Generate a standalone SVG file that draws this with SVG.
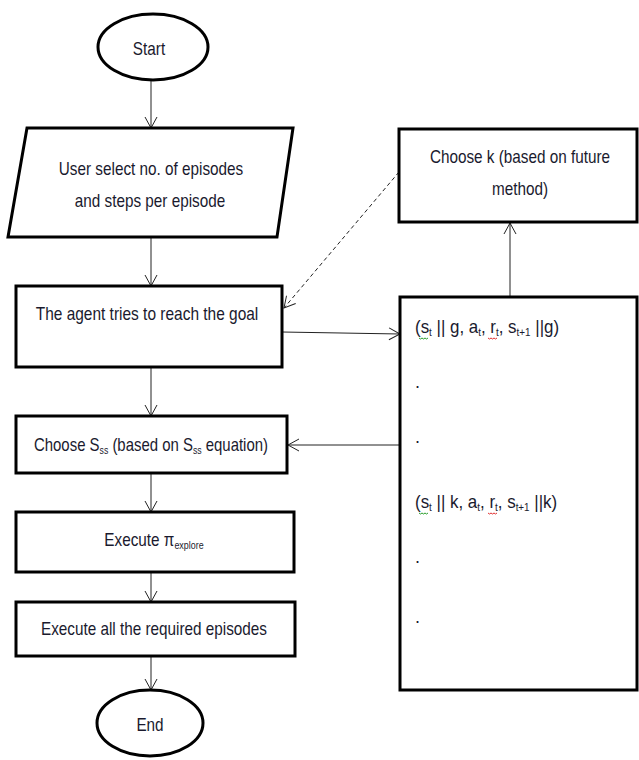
<svg xmlns="http://www.w3.org/2000/svg" width="639" height="760" viewBox="0 0 639 760">
<defs>
<style>
.box{fill:#fff;stroke:#000;stroke-width:3}
.t{font-family:"Liberation Sans",Arial,sans-serif;font-size:18px;fill:#1a1a2e}
.c{text-anchor:middle}
.ln{fill:none;stroke:#222;stroke-width:1}
.sub{font-size:10.5px}
</style>
<marker id="arr" markerWidth="14" markerHeight="14" refX="12" refY="7" orient="auto" markerUnits="userSpaceOnUse">
<path d="M1,1 L12,7 L1,13" fill="none" stroke="#222" stroke-width="1"/>
</marker>
</defs>
<rect width="639" height="760" fill="#fff"/>
<g id="connectors">
<line class="ln" x1="151" y1="80" x2="151" y2="128" marker-end="url(#arr)"/>
<line class="ln" x1="151" y1="237" x2="151" y2="286" marker-end="url(#arr)"/>
<line class="ln" x1="282" y1="332" x2="400" y2="334" marker-end="url(#arr)"/>
<line class="ln" x1="399" y1="172" x2="284" y2="308" stroke-dasharray="4,3" marker-end="url(#arr)"/>
<line class="ln" x1="510" y1="297" x2="510" y2="223" marker-end="url(#arr)"/>
<line class="ln" x1="400" y1="445" x2="288" y2="445" marker-end="url(#arr)"/>
<line class="ln" x1="151" y1="367" x2="151" y2="416" marker-end="url(#arr)"/>
<line class="ln" x1="151" y1="473" x2="151" y2="512" marker-end="url(#arr)"/>
<line class="ln" x1="151" y1="572" x2="151" y2="602" marker-end="url(#arr)"/>
<line class="ln" x1="151" y1="656" x2="151" y2="690" marker-end="url(#arr)"/>
</g>
<g id="start">
<ellipse class="box" cx="153" cy="47" rx="55" ry="33"/>
<text class="t c" transform="translate(149,55) scale(0.85,1)">Start</text>
</g>
<g id="input">
<polygon class="box" points="27,128 293,128 277,237 8,237"/>
<text class="t c" transform="translate(151,175) scale(0.85,1)">User select no. of episodes</text>
<text class="t c" transform="translate(150,207) scale(0.85,1)">and steps per episode</text>
</g>
<g id="agent">
<rect class="box" x="16" y="286" width="266" height="81"/>
<text class="t c" transform="translate(147,320) scale(0.86,1)">The agent tries to reach the goal</text>
</g>
<g id="choosek">
<rect class="box" x="399" y="129" width="238" height="93"/>
<text class="t c" transform="translate(520,163) scale(0.85,1)">Choose k (based on future</text>
<text class="t c" transform="translate(520,195) scale(0.85,1)">method)</text>
</g>
<g id="buffer">
<rect class="box" x="400" y="297" width="237" height="393"/>
<text class="t" transform="translate(415,333) scale(0.94,1)">(s<tspan class="sub" dy="3">t</tspan><tspan dy="-3"> || g, a</tspan><tspan class="sub" dy="3">t</tspan><tspan dy="-3">, r</tspan><tspan class="sub" dy="3">t</tspan><tspan dy="-3">, s</tspan><tspan class="sub" dy="3">t+1</tspan><tspan dy="-3"> ||g)</tspan></text>
<path d="M419,338 q1.5,2 3,0 q1.5,2 3,0 q1.5,2 3,0" fill="none" stroke="#2a9d2a" stroke-width="1"/>
<path d="M488,338 q1.5,2 3,0 q1.5,2 3,0 q1.5,2 3,0" fill="none" stroke="#e03030" stroke-width="1"/>
<text class="t" x="415" y="388">.</text>
<text class="t" x="415" y="443">.</text>
<text class="t" transform="translate(415,508) scale(0.94,1)">(s<tspan class="sub" dy="3">t</tspan><tspan dy="-3"> || k, a</tspan><tspan class="sub" dy="3">t</tspan><tspan dy="-3">, r</tspan><tspan class="sub" dy="3">t</tspan><tspan dy="-3">, s</tspan><tspan class="sub" dy="3">t+1</tspan><tspan dy="-3"> ||k)</tspan></text>
<path d="M419,513 q1.5,2 3,0 q1.5,2 3,0 q1.5,2 3,0" fill="none" stroke="#2a9d2a" stroke-width="1"/>
<path d="M488,513 q1.5,2 3,0 q1.5,2 3,0 q1.5,2 3,0" fill="none" stroke="#e03030" stroke-width="1"/>
<text class="t" x="415" y="563">.</text>
<text class="t" x="415" y="623">.</text>
</g>
<g id="choosesss">
<rect class="box" x="16" y="416" width="271" height="57"/>
<text class="t c" transform="translate(151,451) scale(0.83,1)">Choose S<tspan class="sub" dy="3">ss</tspan><tspan dy="-3"> (based on S</tspan><tspan class="sub" dy="3">ss</tspan><tspan dy="-3"> equation)</tspan></text>
</g>
<g id="execute">
<rect class="box" x="16" y="512" width="278" height="60"/>
<text class="t c" transform="translate(154,546) scale(0.85,1)">Execute π<tspan class="sub" dy="3">explore</tspan></text>
</g>
<g id="executeall">
<rect class="box" x="16" y="602" width="279" height="54"/>
<text class="t c" transform="translate(154,635) scale(0.85,1)">Execute all the required episodes</text>
</g>
<g id="end">
<ellipse class="box" cx="150" cy="723" rx="53" ry="33"/>
<text class="t c" transform="translate(150,731) scale(0.85,1)">End</text>
</g>
</svg>
